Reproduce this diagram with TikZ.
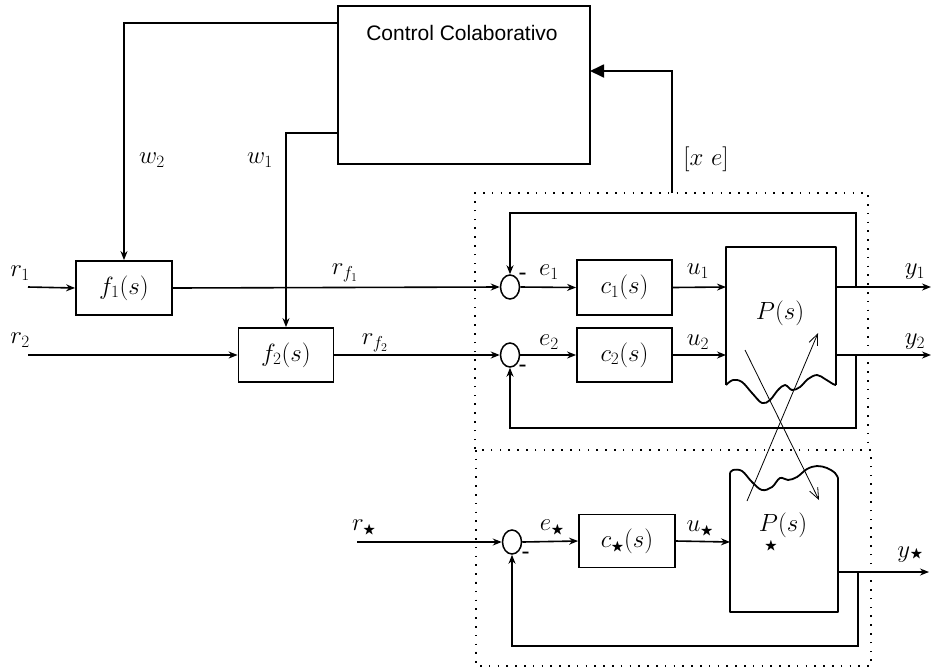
\documentclass[tikz,border=0pt]{standalone}
\usepackage{amsmath}
\usepackage{amssymb}
\usepackage{fontspec}
\newfontfamily\ccfont{Liberation Sans}
\usetikzlibrary{arrows.meta,shapes.geometric}
\newcommand{\bst}{\text{\fontsize{13}{13}\selectfont$\bigstar$}}
\tikzset{
  blk/.style={draw, line width=1.8pt, minimum width=96pt, minimum height=54pt, inner sep=0pt, font=\fontsize{25}{30}\selectfont},
  sig/.style={line width=1.6pt, -{Stealth[length=9pt,width=7pt]}},
  lbl/.style={inner sep=0pt, font=\fontsize{25}{30}\selectfont},
  minus/.style={inner sep=0pt, font=\fontsize{20}{24}\selectfont\bfseries},
  sumj/.style={draw, ellipse, line width=1.5pt, minimum width=19pt, minimum height=24pt, inner sep=0pt},
  dotbox/.style={line width=2pt, dash pattern=on 1.6pt off 7.2pt},
  xarr/.style={line width=0.8pt, -{Straight Barb[length=11pt,width=9pt]}},
  plant/.style={line width=1.8pt, line join=round}
}
\begin{document}
\begin{tikzpicture}[x=1pt,y=-1pt]
\useasboundingbox (0,0) rectangle (933,670);

% dotted boxes
\draw[dotbox] (475,449) -- (475,193) -- (868,193) -- (868,449);
\draw[dotbox] (476,450) rectangle (871,666);

% control box
\node[draw, line width=2.6pt, minimum width=252pt, minimum height=158pt, inner sep=0pt] (cc) at (464,85) {};
\node[inner sep=0pt, font=\ccfont\fontsize{21}{25}\selectfont] (cctxt) at (462,33) {Control Colaborativo};

% blocks
\node[blk] (f1) at (124,288) {$f_1(s)$};
\node[blk, minimum width=95pt] (f2) at (286,355) {$f_2(s)$};
\node[blk, minimum width=95pt, minimum height=55pt] (c1) at (624.5,287.5) {$c_1(s)$};
\node[blk, minimum width=95pt] (c2) at (624.5,355) {$c_2(s)$};
\node[blk, minimum height=53pt] (cs) at (627,541) {$c_{\bst}(s)$};

% summing junctions
\node[sumj] (s1) at (510,287) {};
\node[sumj] (s2) at (510,355) {};
\node[sumj] (ss) at (512,542) {};

% plant P(s)
\draw[plant] (726,385) -- (726,247) -- (836,247) -- (836,385);
\draw[plant] plot[smooth, tension=0.6] coordinates {(726,385) (733,380) (742,382) (752,393) (762,403) (770,400) (778,390) (785,385) (792,390) (800,387) (808,379) (817,375) (825,379) (833,384) (836,385)};
\node[lbl] (Plbl) at (780,313) {$P(s)$};

% plant P_star(s)
\draw[plant] (730,473) -- (730,612) -- (838,612) -- (838,478);
\draw[plant] plot[smooth, tension=0.6] coordinates {(730,473) (733,470) (742,471) (752,482) (762,490) (772,487) (780,478) (788,480) (797,477) (807,469) (817,466) (827,468) (835,473) (838,478)};
\node[lbl] (Pslbl) at (783,525) {$P(s)$};
\node[inner sep=0pt] (Psstar) at (771,546) {$\bst$};

% coordinates
\coordinate (r1in) at (28,287);
\coordinate (r2in) at (28,355);
\coordinate (rsin) at (357,542);
\coordinate (w2y) at (338,23);
\coordinate (w1y) at (338,133);
\coordinate (Pin1) at (726,287);
\coordinate (Pin2) at (726,355);
\coordinate (Pout1) at (836,287);
\coordinate (Pout2) at (836,355);
\coordinate (y1end) at (931,287);
\coordinate (y2end) at (931,355);
\coordinate (Psin) at (730,542);
\coordinate (Psout) at (838,572);
\coordinate (ysend) at (929,572);
\coordinate (b1) at (856,287);
\coordinate (t1) at (856,213);
\coordinate (b2) at (856,355);
\coordinate (d2) at (856,428);
\coordinate (bs) at (858,572);
\coordinate (ds) at (858,646);
\coordinate (xe0) at (672,193);
\coordinate (xe1) at (672,71);
\coordinate (xe2) at (590,71);
\coordinate (a1s) at (745,350);
\coordinate (a1e) at (819,500);
\coordinate (a2s) at (747,501);
\coordinate (a2e) at (818,333);

% signals
\draw[sig] (r1in) -- (f1.west);
\draw[sig] (r2in) -- (f2.west);
\draw[sig] (w2y) -| (f1.north);
\draw[sig] (w1y) -| (f2.north);
\draw[sig] (f1.east) -- (s1.west);
\draw[sig] (f2.east) -- (s2.west);
\draw[sig] (s1.east) -- (c1.west);
\draw[sig] (s2.east) -- (c2.west);
\draw[sig] (c1.east) -- (Pin1);
\draw[sig] (c2.east) -- (Pin2);
\draw[sig] (Pout1) -- (y1end);
\draw[sig] (Pout2) -- (y2end);
\draw[sig] (b1) -- (t1) -| (s1.north);
\draw[sig] (b2) -- (d2) -| (s2.south);

\draw[sig] (rsin) -- (ss.west);
\draw[sig] (ss.east) -- (cs.west);
\draw[sig] (cs.east) -- (Psin);
\draw[sig] (Psout) -- (ysend);
\draw[sig] (bs) -- (ds) -| (ss.south);

\draw[line width=1.8pt, -{Triangle[length=14pt,width=13pt]}] (xe0) -- (xe1) -- (xe2);

\draw[xarr] (a1s) -- (a1e);
\draw[xarr] (a2s) -- (a2e);

% labels
\node[lbl] (lr1) at (20,273) {$r_1$};
\node[lbl] (lr2) at (20,340) {$r_2$};
\node[lbl] (lw2) at (152,160) {$w_2$};
\node[lbl] (lw1) at (260,160) {$w_1$};
\node[lbl] (lrf1) at (345,273) {$r_{f_1}$};
\node[lbl] (lrf2) at (375,343) {$r_{f_2}$};
\node[lbl] (le1) at (549,272) {$e_1$};
\node[lbl] (le2) at (549,342) {$e_2$};
\node[lbl] (lu1) at (698,271) {$u_1$};
\node[lbl] (lu2) at (698,342) {$u_2$};
\node[lbl] (ly1) at (915,272) {$y_1$};
\node[lbl] (ly2) at (915,342) {$y_2$};
\node[lbl] (lxe) at (706,159) {$[x\ e]$};
\node[lbl] (lrs) at (364,528) {$r_{\bst}$};
\node[lbl] (les) at (552,528) {$e_{\bst}$};
\node[lbl] (lus) at (700,529) {$u_{\bst}$};
\node[lbl] (lys) at (910,555) {$y\bst$};

\node[minus] (m1) at (523,276) {-};
\node[minus] (m2) at (523,368) {-};
\node[minus] (ms) at (526,555) {-};
\end{tikzpicture}
\end{document}
